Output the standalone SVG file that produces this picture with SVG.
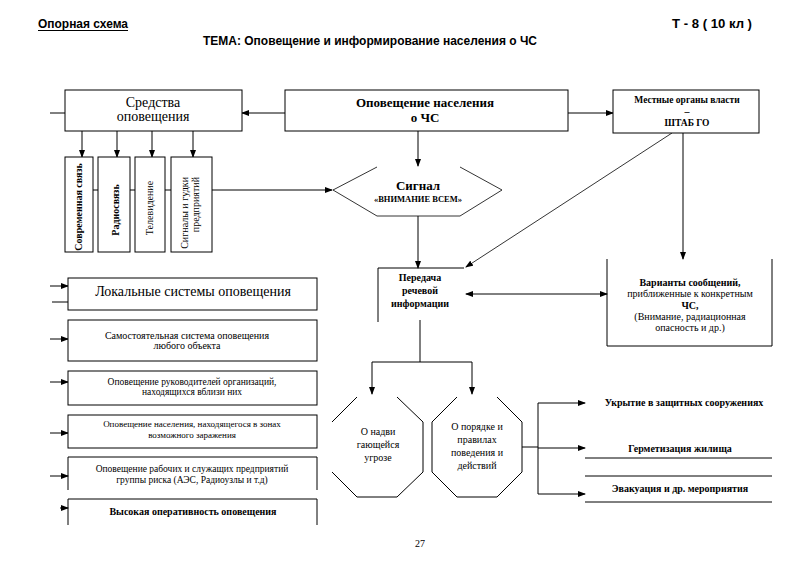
<svg xmlns="http://www.w3.org/2000/svg" width="800" height="565" viewBox="0 0 800 565" font-family="'Liberation Serif', 'Times New Roman', serif">
<defs>
<marker id="ah" markerWidth="8" markerHeight="6" refX="7" refY="3" orient="auto" markerUnits="userSpaceOnUse">
<path d="M0,0 L8,3 L0,6 Z" fill="#000"/>
</marker>
<marker id="ahs" markerWidth="8" markerHeight="6" refX="1" refY="3" orient="auto" markerUnits="userSpaceOnUse">
<path d="M8,0 L0,3 L8,6 Z" fill="#000"/>
</marker>
<style>
.b{fill:#fff;stroke:#000;stroke-width:1}
.l{fill:none;stroke:#000;stroke-width:1}
.t{fill:none;stroke:#000;stroke-width:0.8}
.a{fill:none;stroke:#000;stroke-width:1;marker-end:url(#ah)}
text{font-family:'Liberation Serif','Times New Roman',serif;fill:#000}
.c{text-anchor:middle}
text.h{font-family:'Liberation Sans',Arial,sans-serif;font-weight:bold;font-size:12px}
.bd{font-weight:bold}
</style>
</defs>
<rect width="800" height="565" fill="#fff"/>

<g id="header">
<text class="h" x="38" y="28" textLength="90" lengthAdjust="spacingAndGlyphs">Опорная схема</text>
<line x1="38" y1="30.5" x2="128" y2="30.5" stroke="#000" stroke-width="1"/>
<text class="h" x="672" y="28" textLength="80" lengthAdjust="spacingAndGlyphs">Т - 8 ( 10 кл )</text>
<text class="h" x="203" y="45" textLength="334" lengthAdjust="spacingAndGlyphs">ТЕМА: Оповещение и информирование населения о ЧС</text>
<text x="420" y="547" class="c" font-size="10">27</text>
</g>

<g id="connectors">
<line class="l" x1="50" y1="113" x2="65" y2="113"/>
<line class="a" x1="285" y1="113" x2="242" y2="113"/>
<line class="a" x1="568" y1="113" x2="613" y2="113"/>
<line class="a" x1="82" y1="131" x2="82" y2="157"/>
<line class="a" x1="117" y1="131" x2="117" y2="157"/>
<line class="a" x1="152" y1="131" x2="152" y2="157"/>
<line class="a" x1="193" y1="131" x2="193" y2="157"/>
<line class="l" x1="93" y1="190" x2="98" y2="190"/>
<line class="l" x1="130" y1="190" x2="135" y2="190"/>
<line class="l" x1="165" y1="190" x2="171" y2="190"/>
<line class="a" x1="212" y1="190" x2="332" y2="190"/>
<line class="a" x1="418" y1="131" x2="418" y2="166"/>
<line class="a" x1="418" y1="216" x2="418" y2="268"/>
<line class="t" x1="672" y1="133" x2="466" y2="267" marker-end="url(#ah)"/>
<line class="a" x1="683" y1="133" x2="683" y2="259"/>
<line class="a" x1="466" y1="294" x2="607" y2="294" marker-start="url(#ahs)"/>
<polyline class="l" points="420,320 420,362"/>
<polyline class="l" points="372,362 472,362"/>
<line class="a" x1="372" y1="362" x2="372" y2="394"/>
<line class="a" x1="472" y1="362" x2="472" y2="394"/>
<line class="l" x1="522" y1="447" x2="538" y2="447"/>
<line class="l" x1="538" y1="403" x2="538" y2="494"/>
<line class="a" x1="538" y1="403" x2="585" y2="403"/>
<line class="a" x1="538" y1="448" x2="585" y2="448"/>
<line class="a" x1="538" y1="494" x2="585" y2="494"/>
<line class="l" x1="585" y1="458" x2="772" y2="458"/>
<line class="l" x1="585" y1="476" x2="772" y2="476"/>
<line class="l" x1="585" y1="502" x2="772" y2="502"/>
<line class="a" x1="50" y1="286" x2="68" y2="286"/>
<line class="l" x1="52" y1="302" x2="68" y2="302"/>
<line class="a" x1="50" y1="339" x2="68" y2="339"/>
<line class="a" x1="50" y1="382" x2="68" y2="382"/>
<line class="a" x1="50" y1="433" x2="68" y2="433"/>
<line class="a" x1="50" y1="476" x2="68" y2="476"/>
<line class="a" x1="60" y1="508" x2="68" y2="508"/>
</g>

<g id="sredstva">
<rect class="b" x="65" y="90" width="177" height="41"/>
<text class="c" x="153" y="107" font-size="14">Средства</text>
<text class="c" x="153" y="121" font-size="14">оповещения</text>
</g>

<g id="opoveshchenie">
<rect class="b" x="285" y="90" width="283" height="41"/>
<text class="c bd" x="425" y="107" font-size="13">Оповещение населения</text>
<text class="c bd" x="425" y="122" font-size="13">о ЧС</text>
</g>

<g id="mestnye">
<rect class="b" x="613" y="90" width="146" height="43"/>
<text class="c bd" x="687" y="103" font-size="9.5">Местные органы власти</text>
<text class="c bd" x="687" y="115" font-size="10">–</text>
<text class="c bd" x="687" y="126" font-size="9.5">ШТАБ ГО</text>
</g>

<g id="v1">
<rect class="b" x="65" y="157" width="28" height="95"/>
<text class="c bd" font-size="10" transform="translate(82,207) rotate(-90)">Современная связь</text>
</g>
<g id="v2">
<rect class="b" x="98" y="157" width="32" height="95"/>
<text class="c bd" font-size="10" transform="translate(119,210) rotate(-90)">Радиосвязь</text>
</g>
<g id="v3">
<rect class="b" x="135" y="157" width="30" height="95"/>
<text class="c" font-size="10" transform="translate(153,208) rotate(-90)">Телевидение</text>
</g>
<g id="v4">
<rect class="b" x="171" y="157" width="41" height="95"/>
<text font-size="10" text-anchor="end" transform="translate(188,177) rotate(-90)">Сигналы и гудки</text>
<text font-size="10" text-anchor="end" transform="translate(199,177) rotate(-90)">предприятий</text>
</g>

<g id="signal">
<path class="t" d="M377,167 L333,190 L377,216 L460,216 L502,190 L460,167"/>
<text class="c bd" x="418" y="190" font-size="13">Сигнал</text>
<text class="c bd" x="418" y="202" font-size="8.5">«ВНИМАНИЕ ВСЕМ»</text>
</g>

<g id="peredacha">
<path class="l" d="M378,322 L378,268 L464,268"/>
<text class="c bd" x="420" y="281" font-size="10">Передача</text>
<text class="c bd" x="420" y="294" font-size="10">речевой</text>
<text class="c bd" x="420" y="307" font-size="10">информации</text>
</g>

<g id="varianty">
<path class="l" d="M607,259 L607,346 L772,346 L772,259"/>
<text class="c bd" x="690" y="286" font-size="10">Варианты сообщений,</text>
<text class="c" x="690" y="297" font-size="10">приближенные к конкретным</text>
<text class="c bd" x="690" y="309" font-size="10">ЧС,</text>
<text class="c" x="690" y="320" font-size="10">(Внимание, радиационная</text>
<text class="c" x="690" y="331" font-size="10">опасность и др.)</text>
</g>

<g id="oct1">
<path class="l" d="M357,397 L332,422 M332,472 L357,497 L397,497 L423,472 L423,422 L397,397"/>
<text class="c" x="378" y="435" font-size="10">О надви</text>
<text class="c" x="378" y="448" font-size="10">гающейся</text>
<text class="c" x="378" y="461" font-size="10">угрозе</text>
</g>

<g id="oct2">
<path class="l" d="M457,397 L432,422 L432,472 L457,497 L497,497 L522,472 L522,422 L497,397"/>
<text class="c" x="477" y="430" font-size="10">О порядке и</text>
<text class="c" x="477" y="443" font-size="10">правилах</text>
<text class="c" x="477" y="456" font-size="10">поведения и</text>
<text class="c" x="477" y="469" font-size="10">действий</text>
</g>

<g id="measures">
<text class="c bd" x="684" y="406" font-size="10">Укрытие в защитных сооружениях</text>
<text class="c bd" x="680" y="452" font-size="10">Герметизация жилища</text>
<text class="c bd" x="680" y="492" font-size="10">Эвакуация и др. мероприятия</text>
</g>

<g id="lokal">
<rect class="b" x="68" y="278" width="249" height="32"/>
<text class="c" x="193" y="296" font-size="14">Локальные системы оповещения</text>
</g>
<g id="box2">
<rect class="b" x="68" y="320" width="249" height="41"/>
<text class="c" x="187" y="339" font-size="10">Самостоятельная система оповещения</text>
<text class="c" x="187" y="349" font-size="10">любого объекта</text>
</g>
<g id="box3">
<rect class="b" x="68" y="371" width="249" height="34"/>
<text class="c" x="192" y="385" font-size="9.5">Оповещение руководителей организаций,</text>
<text class="c" x="192" y="395" font-size="9.5">находящихся вблизи них</text>
</g>
<g id="box4">
<rect class="b" x="68" y="415" width="249" height="33"/>
<text class="c" x="192" y="427" font-size="9">Оповещение населения, находящегося в зонах</text>
<text class="c" x="192" y="438" font-size="9">возможного заражения</text>
</g>
<g id="box5">
<path class="l" d="M68,490 L68,457 L317,457 L317,490"/>
<text class="c" x="192" y="472" font-size="9.5">Оповещение рабочих и служащих предприятий</text>
<text class="c" x="192" y="483" font-size="9.5">группы риска (АЭС, Радиоузлы и т.д)</text>
</g>
<g id="box6">
<path class="l" d="M68,525 L68,499 L317,499 L317,525"/>
<text class="c bd" x="193" y="515" font-size="10">Высокая оперативность оповещения</text>
</g>
</svg>
